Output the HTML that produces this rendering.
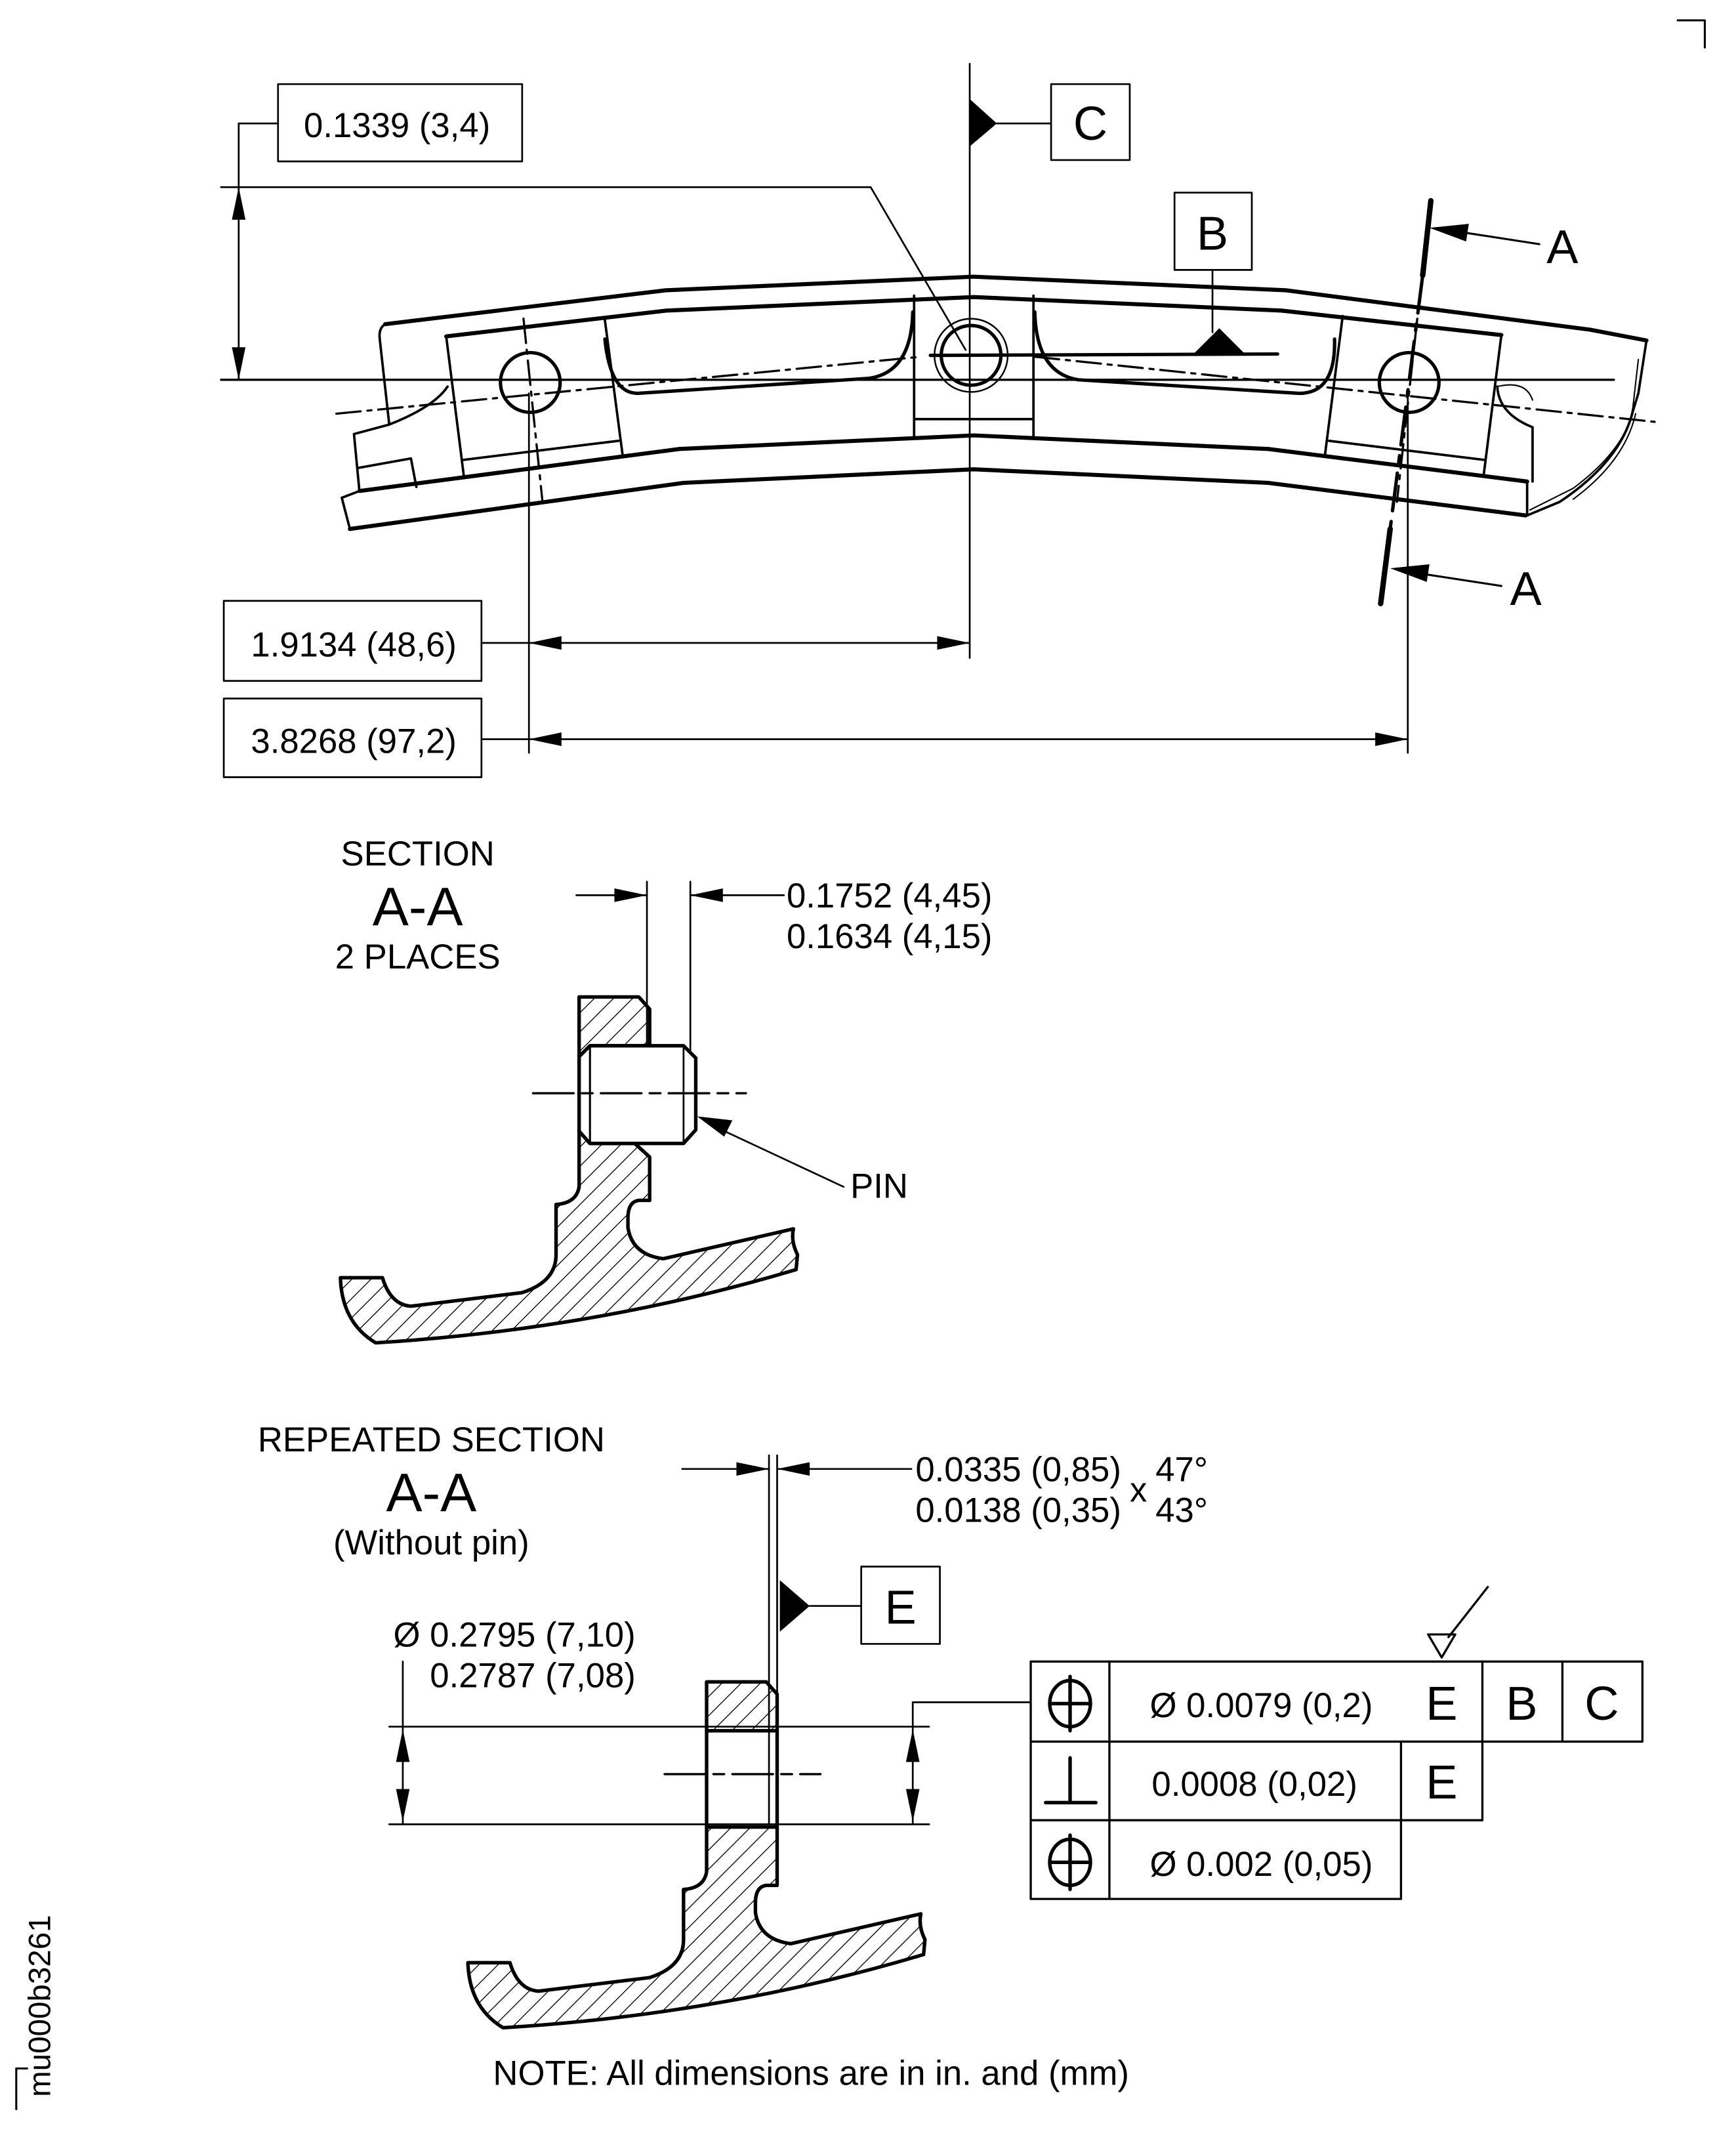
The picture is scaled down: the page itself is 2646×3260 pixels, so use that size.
<!DOCTYPE html>
<html><head><meta charset="utf-8"><style>
html,body{margin:0;padding:0;background:#fff;}
svg{display:block;}
text{font-family:"Liberation Sans",Arial,sans-serif;fill:#000;}
</style></head><body>
<svg width="2646" height="3260" viewBox="0 0 1280 1577" preserveAspectRatio="none" xmlns="http://www.w3.org/2000/svg">
<defs>
<pattern id="h" width="10" height="10" patternUnits="userSpaceOnUse" patternTransform="rotate(45)">
<line x1="0" y1="0" x2="0" y2="10" stroke="#000" stroke-width="1.3"/>
</pattern>
</defs>
<rect width="1280" height="1577" fill="#fff"/>
<g fill="none" stroke="#000" stroke-linejoin="round" stroke-linecap="round">
<polyline points="1237,15 1257,15 1257,35" stroke-width="1.5"/>
<g stroke-width="3">
<polyline points="284,239 491,214 718,204 948,214 1172,243 1214,251"/>
<polyline points="329,248 491,229 718,219 945,229 1107,247"/>
<polyline points="265,362 501,331 718,321 935,331 1126,355"/>
<polyline points="258,390 504,356 718,346 935,356 1125,380"/>
</g>
<g stroke-width="1.8">
<path d="M284,239 Q279,242 280,250 L287,313 L261,320 L265,362"/>
<path d="M265,362 L252,367 L258,390"/>
<path d="M329,248 L342,351"/>
<path d="M446,236 L459,335"/>
<path d="M342,339 L456,325"/>
<path d="M264,345 L303,338 L307,359"/>
<path d="M287,313 Q320,300 330,285"/>
<path d="M1214,251 L1208,290 L1204,303 Q1195,340 1150,370 L1126,380 L1126,355"/>
<path d="M1208,265 L1204,300 Q1200,330 1160,360 L1128,376" stroke-width="1"/>
<path d="M1206,305 Q1198,340 1160,368" stroke-width="1"/>
<path d="M990,233 L977,335"/>
<path d="M1107,247 L1094,350"/>
<path d="M980,325 L1094,339"/>
<path d="M1104,285 Q1105,305 1130,315 L1130,355"/>
<path d="M1104,285 Q1125,280 1130,295" stroke-width="1"/>
<path d="M674,218 L674,322 M762,218 L762,322 M674,309 L762,309"/>
</g>
<g stroke-width="2.5">
<path d="M446,250 Q450,290 470,290 L640,279 Q672,275 673,230"/>
<path d="M763,230 Q764,275 795,280 L958,290 Q985,290 984,250"/>
</g>
<g stroke-width="2.5">
<circle cx="391" cy="282" r="22"/>
<circle cx="1039" cy="282" r="22"/>
<circle cx="716" cy="262" r="22"/>
</g>
<circle cx="716" cy="262" r="27" stroke-width="1.2"/>
<line x1="686" y1="262" x2="942" y2="261" stroke-width="2.5"/>
<g stroke-width="1.6" stroke-dasharray="18,5,3,5">
<line x1="248" y1="305" x2="679" y2="263"/>
<line x1="763" y1="263" x2="1220" y2="311"/>
<line x1="386" y1="235" x2="400" y2="370"/>
<line x1="1045" y1="235" x2="1030" y2="370"/>
</g>
<line x1="163" y1="280" x2="1190" y2="280" stroke-width="1.6"/>
<line x1="715" y1="47" x2="715" y2="485" stroke-width="1.3"/>
<line x1="390" y1="290" x2="390" y2="555" stroke-width="1.3"/>
<line x1="1038" y1="290" x2="1038" y2="555" stroke-width="1.3"/>
<rect x="205" y="62" width="180" height="57" stroke-width="1.3"/>
<polyline points="205,91 176,91 176,138" stroke-width="1.3"/>
<line x1="176" y1="138" x2="176" y2="280" stroke-width="1.3"/>
<polyline points="163,138 642,138 712,258" stroke-width="1.3"/>
<rect x="775" y="62" width="58" height="56" stroke-width="1.3"/>
<line x1="735" y1="91" x2="775" y2="91" stroke-width="1.3"/>
<rect x="866" y="142" width="57" height="57" stroke-width="1.3"/>
<line x1="894" y1="199" x2="894" y2="245" stroke-width="1.3"/>
<line x1="1055" y1="148" x2="1049" y2="203" stroke-width="4"/>
<line x1="1025" y1="390" x2="1018" y2="445" stroke-width="4"/>
<line x1="1049" y1="203" x2="1025" y2="390" stroke-width="2.5" stroke-dasharray="28,8,5,8"/>
<line x1="1135" y1="180" x2="1070" y2="170" stroke-width="1.5"/>
<line x1="1107" y1="432" x2="1042" y2="422" stroke-width="1.5"/>
<rect x="165" y="443" width="190" height="59" stroke-width="1.3"/>
<line x1="355" y1="474" x2="715" y2="474" stroke-width="1.3"/>
<rect x="165" y="515" width="190" height="58" stroke-width="1.3"/>
<line x1="355" y1="545" x2="1038" y2="545" stroke-width="1.3"/>

<line x1="477" y1="650" x2="477" y2="770" stroke-width="1.3"/>
<line x1="509" y1="650" x2="509" y2="780" stroke-width="1.3"/>
<line x1="425" y1="660" x2="477" y2="660" stroke-width="1.3"/>
<line x1="509" y1="660" x2="578" y2="660" stroke-width="1.3"/>
<g stroke-width="2.6">
<path fill="url(#h)" d="M427,735 L471,735 L479,744 L479,771 L435,771 L427,779 Z"/>
<path fill="url(#h)" d="M427,834 L435,843 L468,843 L479,853 L479,885 L471,885 Q463,886 463,898 L463,905 Q466,925 489,928 L585,906 Q583,915 588,925 L587,936 Q440,980 277,990 Q252,975 251,942 L282,942 Q288,962 303,963 L385,953 Q410,945 410,925 L410,888 Q425,887 427,875 Z"/>
</g>
<path fill="#fff" stroke-width="2.6" d="M435,771 L504,771 L513,780 L513,833 L504,843 L435,843 L427,834 L427,779 Z"/>
<line x1="435" y1="771" x2="435" y2="843" stroke-width="1.5"/>
<line x1="504" y1="771" x2="504" y2="843" stroke-width="1.3"/>
<line x1="393" y1="806" x2="550" y2="806" stroke-width="1.6" stroke-dasharray="30,6,8,6"/>
<line x1="530" y1="832" x2="622" y2="875" stroke-width="1.3"/>

<g transform="translate(94,505)" stroke-width="2.6">
<path fill="url(#h)" d="M427,735 L471,735 L479,744 L479,771 L427,771 Z"/>
<path fill="url(#h)" d="M427,842 L479,842 L479,885 L471,885 Q463,886 463,898 L463,905 Q466,925 489,928 L585,906 Q583,915 588,925 L587,936 Q440,980 277,990 Q252,975 251,942 L282,942 Q288,962 303,963 L385,953 Q410,945 410,925 L410,888 Q425,887 427,875 Z"/>
<line x1="427" y1="771" x2="427" y2="842"/>
<line x1="479" y1="771" x2="479" y2="842"/>
</g>
<line x1="567" y1="1073" x2="567" y2="1345" stroke-width="1.3"/>
<line x1="573" y1="1073" x2="573" y2="1345" stroke-width="1.3"/>
<line x1="503" y1="1083" x2="567" y2="1083" stroke-width="1.3"/>
<line x1="573" y1="1083" x2="672" y2="1083" stroke-width="1.3"/>
<line x1="490" y1="1308" x2="605" y2="1308" stroke-width="1.6" stroke-dasharray="30,6,8,6"/>
<rect x="635" y="1155" width="58" height="57" stroke-width="1.3"/>
<line x1="597" y1="1184" x2="635" y2="1184" stroke-width="1.3"/>
<line x1="287" y1="1273" x2="685" y2="1273" stroke-width="1.3"/>
<line x1="287" y1="1345" x2="685" y2="1345" stroke-width="1.3"/>
<line x1="297" y1="1225" x2="297" y2="1345" stroke-width="1.3"/>
<line x1="673" y1="1255" x2="673" y2="1345" stroke-width="1.3"/>
<line x1="673" y1="1255" x2="760" y2="1255" stroke-width="1.3"/>
<g stroke-width="1.6">
<path d="M760,1225 H1211 V1284 H760 Z"/>
<path d="M760,1284 V1342 H1093 V1284"/>
<path d="M760,1342 V1400 H1033 V1284"/>
<path d="M818,1225 V1400 M1093,1225 V1284 M1152,1225 V1284"/>
<path d="M1053,1205 H1073 L1063,1222 Z M1068,1207 L1097,1170"/>
</g>
<g stroke-width="2.6">
<ellipse cx="789" cy="1256" rx="15" ry="17"/>
<path d="M775,1256 H804 M789,1236 V1276"/>
<ellipse cx="789" cy="1373" rx="15" ry="17"/>
<path d="M775,1373 H804 M789,1353 V1393"/>
<path d="M771,1329 H808 M789,1329 V1296"/>
</g>
<line x1="12" y1="1525" x2="12" y2="1555" stroke-width="1.5"/>
<line x1="12" y1="1525" x2="20" y2="1525" stroke-width="1.5"/>
</g>
<g fill="#000" stroke="none">
<polygon points="715,73 715,108 735,91"/>
<polygon points="899,242 880,261 918,261"/>
<polygon points="176,138 171,162 181,162"/>
<polygon points="176,280 171,256 181,256"/>
<polygon points="390,474 414,469 414,479"/>
<polygon points="715,474 691,469 691,479"/>
<polygon points="390,545 414,540 414,550"/>
<polygon points="1038,545 1014,540 1014,550"/>
<polygon points="1054,168 1083,165 1081,178"/>
<polygon points="1025,419 1054,416 1052,429"/>
<polygon points="477,660 453,655 453,665"/>
<polygon points="509,660 533,655 533,665"/>
<polygon points="514,823 540,826 534,838"/>
<polygon points="567,1083 543,1078 543,1088"/>
<polygon points="573,1083 597,1078 597,1088"/>
<polygon points="575,1165 575,1203 597,1184"/>
<polygon points="297,1275 292,1299 302,1299"/>
<polygon points="297,1343 292,1319 302,1319"/>
<polygon points="673,1275 668,1299 678,1299"/>
<polygon points="673,1343 668,1319 678,1319"/>
</g>
<g font-size="25.5">
<text x="224" y="101">0.1339 (3,4)</text>
<text x="185" y="484">1.9134 (48,6)</text>
<text x="185" y="555">3.8268 (97,2)</text>
<text x="580" y="669">0.1752 (4,45)</text>
<text x="580" y="699">0.1634 (4,15)</text>
<text x="627" y="883">PIN</text>
<text x="308" y="638" text-anchor="middle">SECTION</text>
<text x="308" y="714" text-anchor="middle">2 PLACES</text>
<text x="318" y="1070" text-anchor="middle">REPEATED SECTION</text>
<text x="318" y="1146" text-anchor="middle">(Without pin)</text>
<text x="675" y="1092">0.0335 (0,85)</text>
<text x="675" y="1122">0.0138 (0,35)</text>
<text x="833" y="1107">x</text>
<text x="852" y="1092">47°</text>
<text x="852" y="1122">43°</text>
<text x="290" y="1214">Ø 0.2795 (7,10)</text>
<text x="317" y="1244">0.2787 (7,08)</text>
<text x="930" y="1266" text-anchor="middle">Ø 0.0079 (0,2)</text>
<text x="925" y="1324" text-anchor="middle">0.0008 (0,02)</text>
<text x="930" y="1383" text-anchor="middle">Ø 0.002 (0,05)</text>
<text x="598" y="1537" text-anchor="middle">NOTE: All dimensions are in in. and (mm)</text>
<text x="0" y="0" transform="translate(37,1546) rotate(-90)" font-size="23">mu000b3261</text>
</g>
<g font-size="35">
<text x="308" y="682" text-anchor="middle" font-size="40">A-A</text>
<text x="318" y="1114" text-anchor="middle" font-size="40">A-A</text>
<text x="804" y="103" text-anchor="middle">C</text>
<text x="894" y="184" text-anchor="middle">B</text>
<text x="1152" y="194" text-anchor="middle">A</text>
<text x="1125" y="446" text-anchor="middle">A</text>
<text x="664" y="1197" text-anchor="middle">E</text>
<text x="1063" y="1268" text-anchor="middle">E</text>
<text x="1122" y="1268" text-anchor="middle">B</text>
<text x="1181" y="1268" text-anchor="middle">C</text>
<text x="1063" y="1326" text-anchor="middle">E</text>
</g>
</svg>
</body></html>
